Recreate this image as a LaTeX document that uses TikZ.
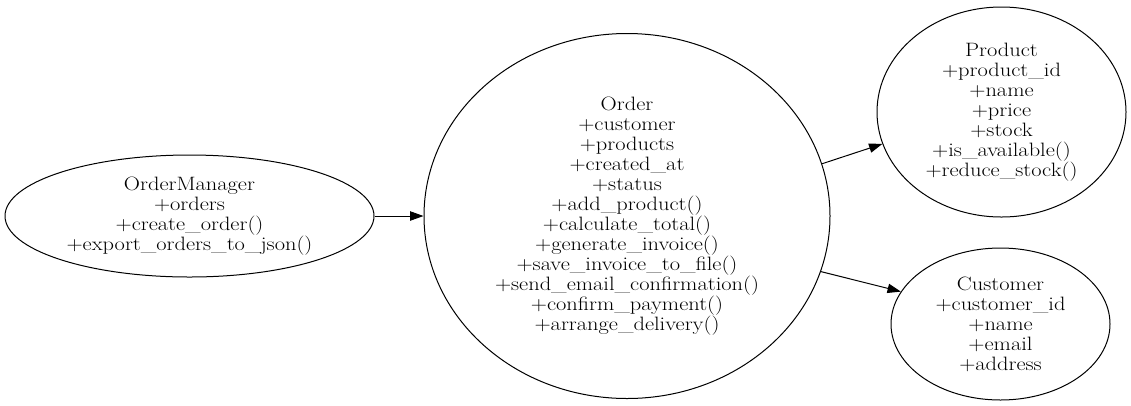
\documentclass[tikz,border=0pt]{standalone}
\usepackage{fontspec}
\setmainfont{Latin Modern Roman}[FakeStretch=1.16]
\usetikzlibrary{shapes.geometric,arrows.meta}
\begin{document}
\begin{tikzpicture}[x=0.75pt, y=-0.75pt, font=\fontsize{14.5}{15}\selectfont, line width=0.75pt, line join=round, >={Triangle[length=10pt,width=7pt]},
	lop/.style={draw, ellipse, inner sep=0pt, align=center}]
	\useasboundingbox (0,0) rectangle (1131,405);
	% cac lop
	\node[lop, minimum width=276.75pt, minimum height=91.5pt] (OM) at (189.5,216) {OrderManager\\+orders\\+create\_order()\\+export\_orders\_to\_json()};
	\node[lop, minimum width=304.5pt, minimum height=273.75pt] (O) at (627,216) {Order\\+customer\\+products\\+created\_at\\+status\\+add\_product()\\+calculate\_total()\\+generate\_invoice()\\+save\_invoice\_to\_file()\\+send\_email\_confirmation()\\+confirm\_payment()\\+arrange\_delivery()};
	\node[lop, minimum width=186.75pt, minimum height=157.5pt] (P) at (1001.5,112) {Product\\+product\_id\\+name\\+price\\+stock\\+is\_available()\\+reduce\_stock()};
	\node[lop, minimum width=164.25pt, minimum height=114pt] (C) at (1000.5,324) {Customer\\+customer\_id\\+name\\+email\\+address};
	% cac canh
	\draw[->] (OM) -- (O);
	\draw[->] (O.15.7) -- (P.195.2);
	\draw[->] (O.-16) -- (C.162.6);
\end{tikzpicture}
\end{document}
